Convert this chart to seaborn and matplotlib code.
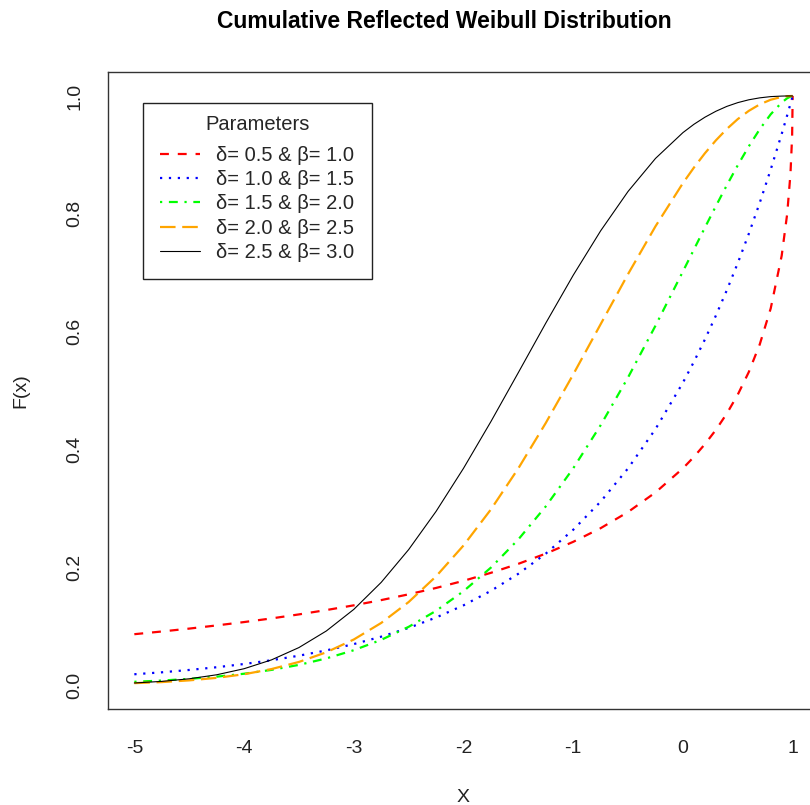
import matplotlib
matplotlib.use("Agg")
import matplotlib.pyplot as plt
import seaborn as sns
import pandas as pd
from matplotlib.lines import Line2D

# ---- data ----
x_vals = [-5.0, -4.75, -4.5, -4.25, -4.0, -3.75, -3.5, -3.25, -3.0, -2.75, -2.5,
          -2.25, -2.0, -1.75, -1.5, -1.25, -1.0, -0.75, -0.5, -0.25, 0.0,
          0.1, 0.2, 0.3, 0.4, 0.5, 0.6, 0.7, 0.8, 0.9, 0.95, 0.98, 0.995, 1.0]

red_vals = [0.0863, 0.0909, 0.0958, 0.1012, 0.1069, 0.1131, 0.1199, 0.1273, 0.1353,
            0.1442, 0.1540, 0.1648, 0.1769, 0.1905, 0.2058, 0.2231, 0.2431, 0.2663,
            0.2938, 0.3270, 0.3679, 0.3873, 0.4089, 0.4331, 0.4609, 0.4931, 0.5313,
            0.5783, 0.6394, 0.7289, 0.7997, 0.8681, 0.9317, 1.0]
blue_vals = [0.0183, 0.0216, 0.0256, 0.0302, 0.0357, 0.0421, 0.0498, 0.0588, 0.0695,
             0.0821, 0.0970, 0.1146, 0.1353, 0.1599, 0.1889, 0.2231, 0.2636, 0.3114,
             0.3679, 0.4346, 0.5134, 0.5488, 0.5866, 0.6271, 0.6703, 0.7165, 0.7659,
             0.8187, 0.8752, 0.9355, 0.9672, 0.9868, 0.9967, 1.0]
green_vals = [0.0055, 0.0076, 0.0105, 0.0142, 0.0192, 0.0257, 0.0342, 0.0452, 0.0591,
              0.0767, 0.0988, 0.1260, 0.1593, 0.1994, 0.2472, 0.3033, 0.3679, 0.4411,
              0.5223, 0.6101, 0.7022, 0.7394, 0.7765, 0.8130, 0.8485, 0.8825, 0.9144,
              0.9436, 0.9689, 0.9889, 0.9961, 0.9990, 0.9999, 1.0]
orange_vals = [0.0032, 0.0050, 0.0079, 0.0122, 0.0183, 0.0271, 0.0392, 0.0556, 0.0773,
               0.1054, 0.1409, 0.1845, 0.2369, 0.2982, 0.3679, 0.4449, 0.5273, 0.6126,
               0.6977, 0.7788, 0.8521, 0.8784, 0.9027, 0.9246, 0.9440, 0.9608, 0.9747,
               0.9857, 0.9936, 0.9984, 0.9996, 0.9999, 1.0, 1.0]
black_vals = [0.0035, 0.0062, 0.0106, 0.0174, 0.0277, 0.0427, 0.0636, 0.0918, 0.1284,
              0.1743, 0.2299, 0.2948, 0.3679, 0.4473, 0.5305, 0.6144, 0.6957, 0.7711,
              0.8380, 0.8940, 0.9378, 0.9519, 0.9639, 0.9740, 0.9823, 0.9887, 0.9935,
              0.9968, 0.9989, 0.9998, 1.0, 1.0, 1.0, 1.0]

series_labels = ["δ= 0.5 & β= 1.0", "δ= 1.0 & β= 1.5", "δ= 1.5 & β= 2.0",
                 "δ= 2.0 & β= 2.5", "δ= 2.5 & β= 3.0"]
x_ticks = [-5, -4, -3, -2, -1, 0, 1]
y_ticks = [0.0, 0.2, 0.4, 0.6, 0.8, 1.0]
y_tick_labels = ["0.0", "0.2", "0.4", "0.6", "0.8", "1.0"]

# ---- styles ----
colors = ["#FF0000", "#0000FF", "#00FF00", "#FFA500", "#000000"]
styles = [(0, (4, 4)), (0, (1, 3)), (0, (1, 3, 4, 3)), (0, (7, 3)), "-"]
widths = [1.6, 1.6, 1.6, 1.6, 0.8]

sns.set_style("white")
plt.rcParams["font.family"] = ["Liberation Sans", "DejaVu Sans"]

W, H = 810, 805
fig = plt.figure(figsize=(W / 100, H / 100), dpi=100)
ax_l, ax_r, ax_t, ax_b = 108, 819, 72.4, 708.6
ax = fig.add_axes([ax_l / W, (H - ax_b) / H, (ax_r - ax_l) / W, (ax_b - ax_t) / H])

all_vals = [red_vals, blue_vals, green_vals, orange_vals, black_vals]
handles = []
for vals, lab, c, ls, lw in zip(all_vals, series_labels, colors, styles, widths):
    df = pd.DataFrame({"x": x_vals, "F": vals})
    sns.lineplot(data=df, x="x", y="F", ax=ax, color=c, linestyle=ls,
                 linewidth=lw, estimator=None, sort=False)
    handles.append(Line2D([], [], color=c, linestyle=ls, linewidth=lw, label=lab))

ax.set_xlim(-5.24, 1.24)
ax.set_ylim(-0.04, 1.04)
ax.set_xticks(x_ticks)
ax.set_xticklabels([str(t) for t in x_ticks])
ax.set_yticks(y_ticks)
ax.set_yticklabels(y_tick_labels, rotation=90, va="center")

for s in ax.spines.values():
    s.set_color("#333333")
    s.set_linewidth(1.0)
    s.set_visible(True)

ax.tick_params(axis="both", direction="out", length=8.5, width=1.0,
               color="#333333", labelsize=14, labelcolor="#222222")
ax.tick_params(axis="x", pad=14)
ax.tick_params(axis="y", pad=9)

ax.set_xlabel("X", fontsize=14, color="#222222", labelpad=23)
ax.set_ylabel("F(x)", fontsize=14, color="#222222", labelpad=27)

fig.text(444.5 / W, 1 - 22 / H, "Cumulative Reflected Weibull Distribution",
         ha="center", va="center", fontsize=16.5, fontweight="bold", color="black")

leg = ax.legend(handles=handles, title="Parameters", loc="upper left",
                bbox_to_anchor=((143 - ax_l) / (ax_r - ax_l), (ax_b - 103) / (ax_b - ax_t)),
                borderaxespad=0, fontsize=14.5, title_fontsize=14.5, frameon=True,
                fancybox=False, shadow=False, framealpha=1, edgecolor="#222222",
                handlelength=2.0, handletextpad=0.8, labelspacing=0.255,
                borderpad=0.6)
leg.get_frame().set_linewidth(1.0)
# extra inner spacing around the entries (points)
leg._legend_handle_box.pad = 3.6
leg._legend_box.sep = 5.1

fig.savefig("out.png", dpi=100)
